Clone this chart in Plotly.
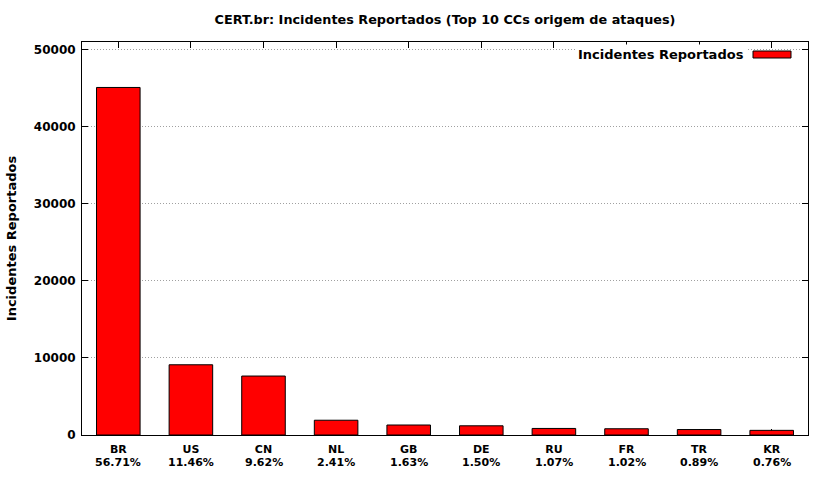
import plotly.graph_objects as go

countries = ["BR", "US", "CN", "NL", "GB", "DE", "RU", "FR", "TR", "KR"]
percents = ["56.71%", "11.46%", "9.62%", "2.41%", "1.63%", "1.50%", "1.07%", "1.02%", "0.89%", "0.76%"]
incidents = [45100, 9114, 7651, 1917, 1296, 1193, 851, 811, 708, 604]
series_name = "Incidentes Reportados"
title_text = "CERT.br: Incidentes Reportados (Top 10 CCs origem de ataques)"
y_ticks = [0, 10000, 20000, 30000, 40000, 50000]

def font(size):
    return dict(family="DejaVu Sans", size=size, color="black", weight="bold")

W, H = 831, 480
L, R, T, B = 82, 808, 42, 435

fig = go.Figure()
fig.add_trace(go.Bar(
    x=countries, y=incidents, name=series_name, width=0.6,
    marker=dict(color="#ff0000", line=dict(color="black", width=1)),
    showlegend=False,
))

fig.update_layout(
    width=W, height=H,
    margin=dict(l=L, r=W - R, t=T, b=H - B, autoexpand=False),
    plot_bgcolor="white", paper_bgcolor="white",
    font=font(12),
    title=dict(text=title_text, x=0.5, xref="paper", y=1 - 20 / H, yref="container",
               xanchor="center", yanchor="middle", font=font(12.8)),
    xaxis=dict(
        type="category", categoryorder="array", categoryarray=countries,
        tickmode="array", tickvals=countries, ticktext=countries,
        showline=True, linecolor="black", linewidth=1, mirror="ticks",
        ticks="inside", ticklen=6, tickcolor="black",
        showgrid=False, layer="below traces",
        tickfont=font(11), ticklabelstandoff=4,
    ),
    yaxis=dict(
        range=[0, 51000], tickmode="array", tickvals=y_ticks, tickformat="d",
        showline=True, linecolor="black", linewidth=1, mirror="ticks",
        ticks="inside", ticklen=6, tickcolor="black",
        showgrid=True, gridcolor="#a0a0a0", griddash="1px,2px", gridwidth=1,
        zeroline=False, ticklabelstandoff=3,
        tickfont=font(12),
        title=dict(text=series_name, standoff=14, font=font(13)),
    ),
)

def px_x(px):
    return (px - L) / (R - L)

def px_y(py):
    return (B - py) / (B - T)

# second line of the category labels (share of total)
for c, p in zip(countries, percents):
    fig.add_annotation(
        x=c, y=px_y(462), xref="x", yref="paper", text=p, showarrow=False,
        xanchor="center", yanchor="middle", font=font(11),
    )

# legend (gnuplot style: text then swatch on the right)
fig.add_annotation(
    x=px_x(747), y=px_y(54.5), xref="paper", yref="paper",
    text=series_name, showarrow=False, xanchor="right", yanchor="middle",
    bgcolor="white", borderpad=2, font=font(13),
)
fig.add_shape(
    type="rect", xref="paper", yref="paper",
    x0=px_x(753), x1=px_x(791), y0=px_y(58), y1=px_y(51),
    fillcolor="#ff0000", line=dict(color="black", width=1),
)

fig.write_html("out.html", config={"displayModeBar": False},
               post_script="document.body.style.margin='0';")
